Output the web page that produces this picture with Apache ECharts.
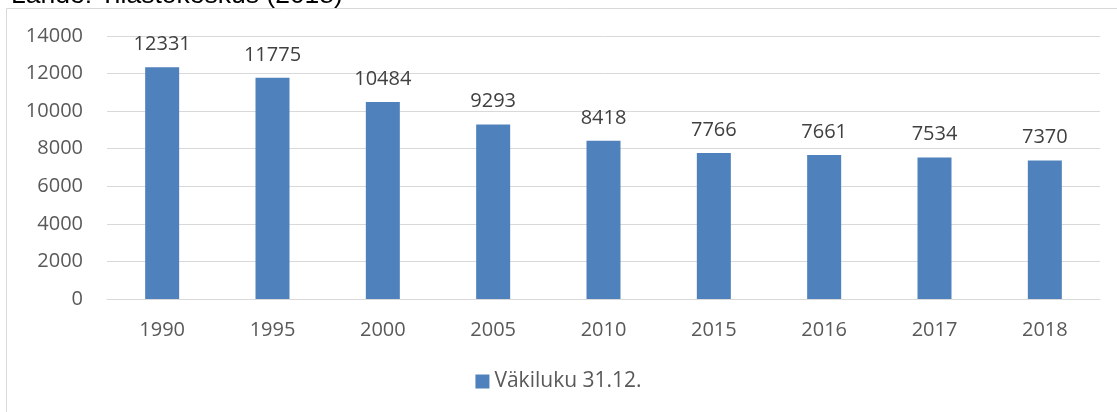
<!DOCTYPE html>
<html>
<head>
<meta charset="utf-8">
<script src="https://cdn.jsdelivr.net/npm/echarts@6/dist/echarts.min.js"></script>
<style>
	html, body { margin: 0; padding: 0; background: #fff; }
	#chart { width: 1117px; height: 412px; }
</style>
</head>
<body>
<div id="chart"></div>
<script>
var years = ["1990", "1995", "2000", "2005", "2010", "2015", "2016", "2017", "2018"];
var population = [12331, 11775, 10484, 9293, 8418, 7766, 7661, 7534, 7370];
var seriesName = "Väkiluku 31.12.";
var sourceText = "Lähde: Tilastokeskus (2018)";

var textFont = "'Open Sans', 'Noto Sans', sans-serif";

var myChart = echarts.init(document.getElementById("chart"));
var option = {
	animation: false,
	title: {
		text: sourceText,
		left: 6,
		top: -23,
		textStyle: {
			fontFamily: "'Liberation Sans', Arial, sans-serif",
			fontSize: 26.5,
			fontWeight: 'normal',
			color: '#000'
		}
	},
	graphic: [
		{
			type: 'rect',
			shape: { x: 6.5, y: 8.5, width: 1130, height: 420 },
			style: { fill: 'none', stroke: '#d9d9d9', lineWidth: 1 },
			z: -1
		}
	],
	grid: {
		left: 107,
		right: 17,
		top: 36,
		bottom: 113
	},
	legend: {
		bottom: 15,
		left: 'center',
		itemWidth: 14,
		itemHeight: 14,
		itemGap: 6,
		icon: 'rect',
		textStyle: {
			fontFamily: textFont,
			fontSize: 21,
			color: '#595959'
		}
	},
	xAxis: {
		type: 'category',
		data: years,
		axisLine: { lineStyle: { color: '#d9d9d9' } },
		axisTick: { show: false },
		axisLabel: {
			margin: 21,
			fontFamily: textFont,
			fontSize: 20,
			color: '#595959'
		}
	},
	yAxis: {
		type: 'value',
		min: 0,
		max: 14000,
		interval: 2000,
		axisLine: { show: false },
		axisTick: { show: false },
		splitLine: { lineStyle: { color: '#d9d9d9' } },
		axisLabel: {
			margin: 24,
			fontFamily: textFont,
			fontSize: 20,
			color: '#595959',
			formatter: function(v) { return String(v); }
		}
	},
	series: [
		{
			name: seriesName,
			type: 'bar',
			data: population,
			barWidth: 34,
			itemStyle: { color: '#4f81bd' },
			label: {
				show: true,
				position: 'top',
				distance: 13,
				fontFamily: textFont,
				fontSize: 20,
				color: '#404040'
			}
		}
	]
};
option && myChart.setOption(option);
</script>
</body>
</html>
